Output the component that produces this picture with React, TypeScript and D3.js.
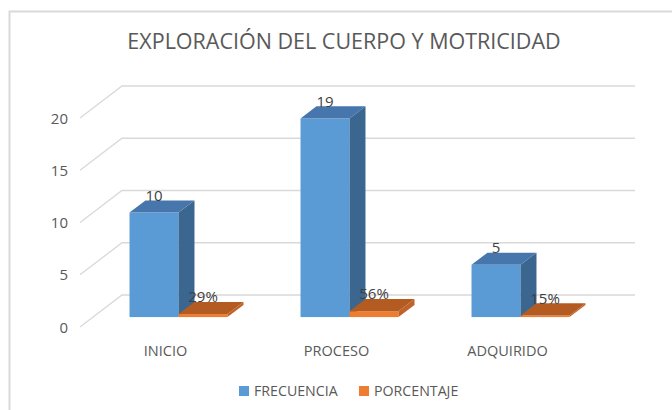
import { useEffect, useRef } from 'react';
import * as d3 from 'd3';

const CATEGORIES = ['INICIO', 'PROCESO', 'ADQUIRIDO'];
const SERIES = ['FRECUENCIA', 'PORCENTAJE'];
const FRECUENCIA = [10, 19, 5];
const PORCENTAJE = [0.29, 0.56, 0.15];
const PORCENTAJE_LABELS = ['29%', '56%', '15%'];
const Y_TICKS = [0, 5, 10, 15, 20];

const COLORS = {
  FRECUENCIA: { front: '#5B9BD5', top: '#4676AC', side: '#3A6690' },
  PORCENTAJE: { front: '#ED7D31', top: '#B35B21', side: '#C0622A' },
};

export default function App() {
  const svgRef = useRef<SVGSVGElement>(null);

  useEffect(() => {
    if (!svgRef.current) return;
    const svg = d3.select(svgRef.current);
    svg.selectAll('*').remove();

    const font = "'Open Sans', 'Liberation Sans', sans-serif";
    const textColor = '#595959';
    const DX = 42;
    const DY = -32;
    const d0 = 0.31;
    const d1 = 0.69;

    // frame
    svg.append('path').attr('d', 'M9.5,410 V11.5 H672').attr('fill', 'none').attr('stroke', '#d9d9d9').attr('stroke-width', 2);

    const x = d3.scaleBand<string>().domain(CATEGORIES).range([80, 593]);
    const y = d3.scaleLinear().domain([0, 20]).range([327, 118]);

    // gridlines: back wall + left wall
    const grid = svg.append('g').attr('stroke', '#d9d9d9').attr('stroke-width', 1.3).attr('fill', 'none');
    Y_TICKS.forEach((v) => {
      const yy = y(v);
      grid.append('path').attr('d', `M80,${yy} L${80 + DX},${yy + DY} L${593 + DX},${yy + DY}`);
    });

    // y tick labels
    svg.append('g').selectAll('text').data(Y_TICKS).join('text')
      .attr('x', 68).attr('y', (d) => y(d) + 5.5)
      .attr('text-anchor', 'end').attr('fill', textColor)
      .attr('font-family', font).attr('font-size', 15)
      .text((d) => d);

    // category labels
    svg.append('g').selectAll('text').data(CATEGORIES).join('text')
      .attr('x', (d) => (x(d) as number) + x.bandwidth() / 2).attr('y', 356)
      .attr('text-anchor', 'middle').attr('fill', textColor)
      .attr('font-family', font).attr('font-size', 14.5)
      .text((d) => d);

    // bars
    const barsW = 98;
    const inner = d3.scaleBand<string>().domain(SERIES).range([0, barsW]);
    const ox = DX * d0;
    const oy = DY * d0;
    const bx = DX * (d1 - d0);
    const by = DY * (d1 - d0);

    const bars = svg.append('g');
    const labels = svg.append('g');
    CATEGORIES.forEach((c, i) => {
      const cx = (x(c) as number) + x.bandwidth() / 2 - barsW / 2;
      SERIES.forEach((s) => {
        const v = s === 'FRECUENCIA' ? FRECUENCIA[i] : PORCENTAJE[i];
        const lab = s === 'FRECUENCIA' ? String(FRECUENCIA[i]) : PORCENTAJE_LABELS[i];
        const col = COLORS[s as keyof typeof COLORS];
        const x0 = cx + (inner(s) as number) + ox;
        const x1 = x0 + inner.bandwidth();
        const yb = y(0) + oy;
        const yt = y(v) + oy;
        // front
        bars.append('rect').attr('x', x0).attr('y', yt).attr('width', x1 - x0).attr('height', yb - yt).attr('fill', col.front);
        // side
        bars.append('path').attr('d', `M${x1},${yb} L${x1 + bx},${yb + by} L${x1 + bx},${yt + by} L${x1},${yt} Z`).attr('fill', col.side);
        // top
        bars.append('path').attr('d', `M${x0},${yt} L${x1},${yt} L${x1 + bx},${yt + by} L${x0 + bx},${yt + by} Z`).attr('fill', col.top);
        labels.append('text')
          .attr('x', (x0 + x1) / 2).attr('y', yt - 12)
          .attr('text-anchor', 'middle').attr('fill', '#404040')
          .attr('font-family', font).attr('font-size', 15)
          .text(lab);
      });
    });

    // title
    svg.append('text')
      .attr('x', 344).attr('y', 49)
      .attr('text-anchor', 'middle').attr('fill', textColor)
      .attr('font-family', font).attr('font-size', 21.5)
      .text('EXPLORACIÓN DEL CUERPO Y MOTRICIDAD');

    // legend
    const legend = svg.append('g');
    const legendX = [239, 359];
    SERIES.forEach((s, i) => {
      legend.append('rect').attr('x', legendX[i]).attr('y', 386).attr('width', 10).attr('height', 10)
        .attr('fill', COLORS[s as keyof typeof COLORS].front);
      legend.append('text').attr('x', legendX[i] + 15).attr('y', 396)
        .attr('fill', textColor).attr('font-family', font).attr('font-size', 14.2)
        .text(s);
    });
  }, []);

  return (
    <svg ref={svgRef} width={672} height={410}
      style={{ position: 'absolute', left: 0, top: 0, background: '#fff' }} />
  );
}
